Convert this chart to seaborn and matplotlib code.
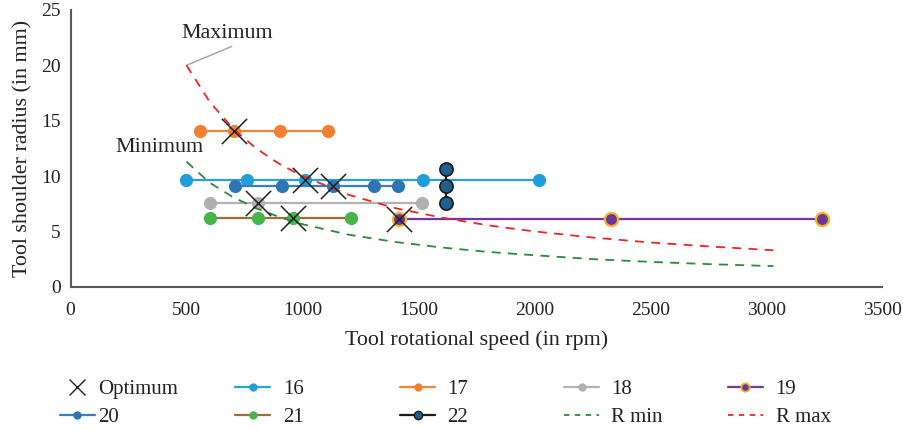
import matplotlib
matplotlib.use("Agg")
import matplotlib.pyplot as plt
import seaborn as sns
import numpy as np
from matplotlib.lines import Line2D

# Tool rotational speed (rpm) and shoulder radius (mm) per tool series
s16_x = [500, 760, 1010, 1520, 2020]
s16_y = [9.6, 9.6, 9.6, 9.6, 9.6]
s17_x = [560, 705, 905, 1110]
s17_y = [14.1, 14.1, 14.1, 14.1]
s18_x = [600, 810, 1515]
s18_y = [7.6, 7.6, 7.6]
s19_x = [1415, 2330, 3240]
s19_y = [6.1, 6.1, 6.1]
s20_x = [710, 910, 1130, 1310, 1410]
s20_y = [9.1, 9.1, 9.1, 9.1, 9.1]
s21_x = [600, 810, 960, 1210]
s21_y = [6.2, 6.2, 6.2, 6.2]
s22_x = [1620, 1620, 1620]
s22_y = [10.6, 9.1, 7.6]

# Optimum points
opt_x = [705, 1010, 1130, 810, 960, 1415]
opt_y = [14.1, 9.6, 9.1, 7.6, 6.2, 6.1]

# Radius bounds
r_speed = [500, 600, 700, 800, 900, 1000, 1200, 1400, 1600, 1800, 2000, 2250, 2500, 2750, 3030]
r_max = [20.0, 16.7, 14.3, 12.5, 11.1, 10.0, 8.3, 7.1, 6.25, 5.55, 5.0, 4.45, 4.0, 3.65, 3.3]
r_min = [11.3, 9.4, 8.1, 7.1, 6.3, 5.65, 4.7, 4.05, 3.55, 3.15, 2.85, 2.5, 2.25, 2.05, 1.87]

x_ticks = [0, 500, 1000, 1500, 2000, 2500, 3000, 3500]
y_ticks = [0, 5, 10, 15, 20, 25]

sns.set_style("white")
plt.rcParams["font.family"] = ["Liberation Serif", "DejaVu Serif"]

fig = plt.figure(figsize=(9.04, 4.30), dpi=100)
ax = fig.add_axes([0.078, 0.333, 0.898, 0.644])

MS = 9.5
LW = 1.6
FS_TICK = 14
FS_TEXT = 15.8
FS_LEG = 15

series = [
    ("16", s16_x, s16_y, "#2aa0da", "#1f9fda", "#1f9fda", 0.0),
    ("17", s17_x, s17_y, "#f28437", "#f28030", "#f28030", 0.0),
    ("18", s18_x, s18_y, "#b2b2b2", "#b0b0b0", "#b0b0b0", 0.0),
    ("19", s19_x, s19_y, "#7336a0", "#6c3896", "#f3b527", 1.6),
    ("20", s20_x, s20_y, "#3a7cbc", "#2e75b6", "#2e75b6", 0.0),
    ("21", s21_x, s21_y, "#9c6c34", "#46b449", "#46b449", 0.0),
    ("22", s22_x, s22_y, "#1a1a1a", "#1d5f8e", "#1a1a1a", 1.2),
]

handles = {}
for name, xs, ys, lc, fc, ec, mew in series:
    sns.lineplot(x=xs, y=ys, ax=ax, color=lc, lw=LW, marker="o", markersize=MS,
                 markerfacecolor=fc, markeredgecolor=ec, markeredgewidth=mew,
                 estimator=None, sort=False, zorder=3)
    handles[name] = Line2D([], [], color=lc, lw=LW, marker="o", markersize=6,
                           markerfacecolor=fc, markeredgecolor=ec,
                           markeredgewidth=mew * 0.8)

sns.lineplot(x=r_speed, y=r_min, ax=ax, color="#2a8a3c", lw=1.3,
             linestyle=(0, (5, 4)), estimator=None, zorder=4)
sns.lineplot(x=r_speed, y=r_max, ax=ax, color="#f02424", lw=1.3,
             linestyle=(0, (5, 4)), estimator=None, zorder=4)
handles["R min"] = Line2D([], [], color="#2a8a3c", lw=1.3, linestyle=(0, (3, 3)))
handles["R max"] = Line2D([], [], color="#f02424", lw=1.3, linestyle=(0, (3, 3)))

sns.scatterplot(x=opt_x, y=opt_y, ax=ax, marker="x", s=330, color="#222222",
                linewidth=1.1, zorder=6)
handles["Optimum"] = Line2D([], [], color="#222222", lw=0, marker="x",
                            markersize=11, markeredgewidth=1.0)

# Callout labels for the two bound curves
ax.annotate("", xy=(500, 20.0), xytext=(695, 21.7),
            arrowprops=dict(arrowstyle="-", color="#a6a6a6", lw=1.1,
                            shrinkA=0, shrinkB=0))
ax.text(677, 22.85, "Maximum", fontsize=FS_TEXT, color="#222222", ha="center", va="center")
ax.text(384, 12.55, "Minimum", fontsize=FS_TEXT, color="#222222", ha="center", va="center")

ax.set_xlim(0, 3500)
ax.set_ylim(0, 25)
ax.set_xticks(x_ticks)
ax.set_yticks(y_ticks)
ax.tick_params(axis="x", labelsize=FS_TICK, length=0, pad=11)
ax.tick_params(axis="y", labelsize=FS_TICK, length=0, pad=7)
for lab in ax.get_xticklabels() + ax.get_yticklabels():
    lab.set_color("#222222")
ax.set_xlabel("Tool rotational speed (in rpm)", fontsize=FS_TEXT, color="#222222", labelpad=8)
ax.set_ylabel("Tool shoulder radius (in mm)", fontsize=FS_TEXT, color="#222222", labelpad=6)
sns.despine(ax=ax)
for side in ("left", "bottom"):
    ax.spines[side].set_color("#595959")
    ax.spines[side].set_linewidth(1.5)

# Legend laid out as five columns of two rows
columns = [
    (["Optimum", "20"], 0.066, 0.15),
    (["16", "21"], 0.260, 0.62),
    (["17", "22"], 0.4425, 0.58),
    (["18", "R min"], 0.624, 0.58),
    (["19", "R max"], 0.805, 0.62),
]
for labels, xpos, pad in columns:
    leg = fig.legend([handles[l] for l in labels], labels, loc="upper left",
                     bbox_to_anchor=(xpos, 0.118), frameon=False,
                     fontsize=FS_LEG, handlelength=1.68, handletextpad=pad,
                     labelspacing=0.43, borderpad=0, borderaxespad=0)
    for t in leg.get_texts():
        t.set_color("#222222")

fig.savefig("out.png", dpi=100)
